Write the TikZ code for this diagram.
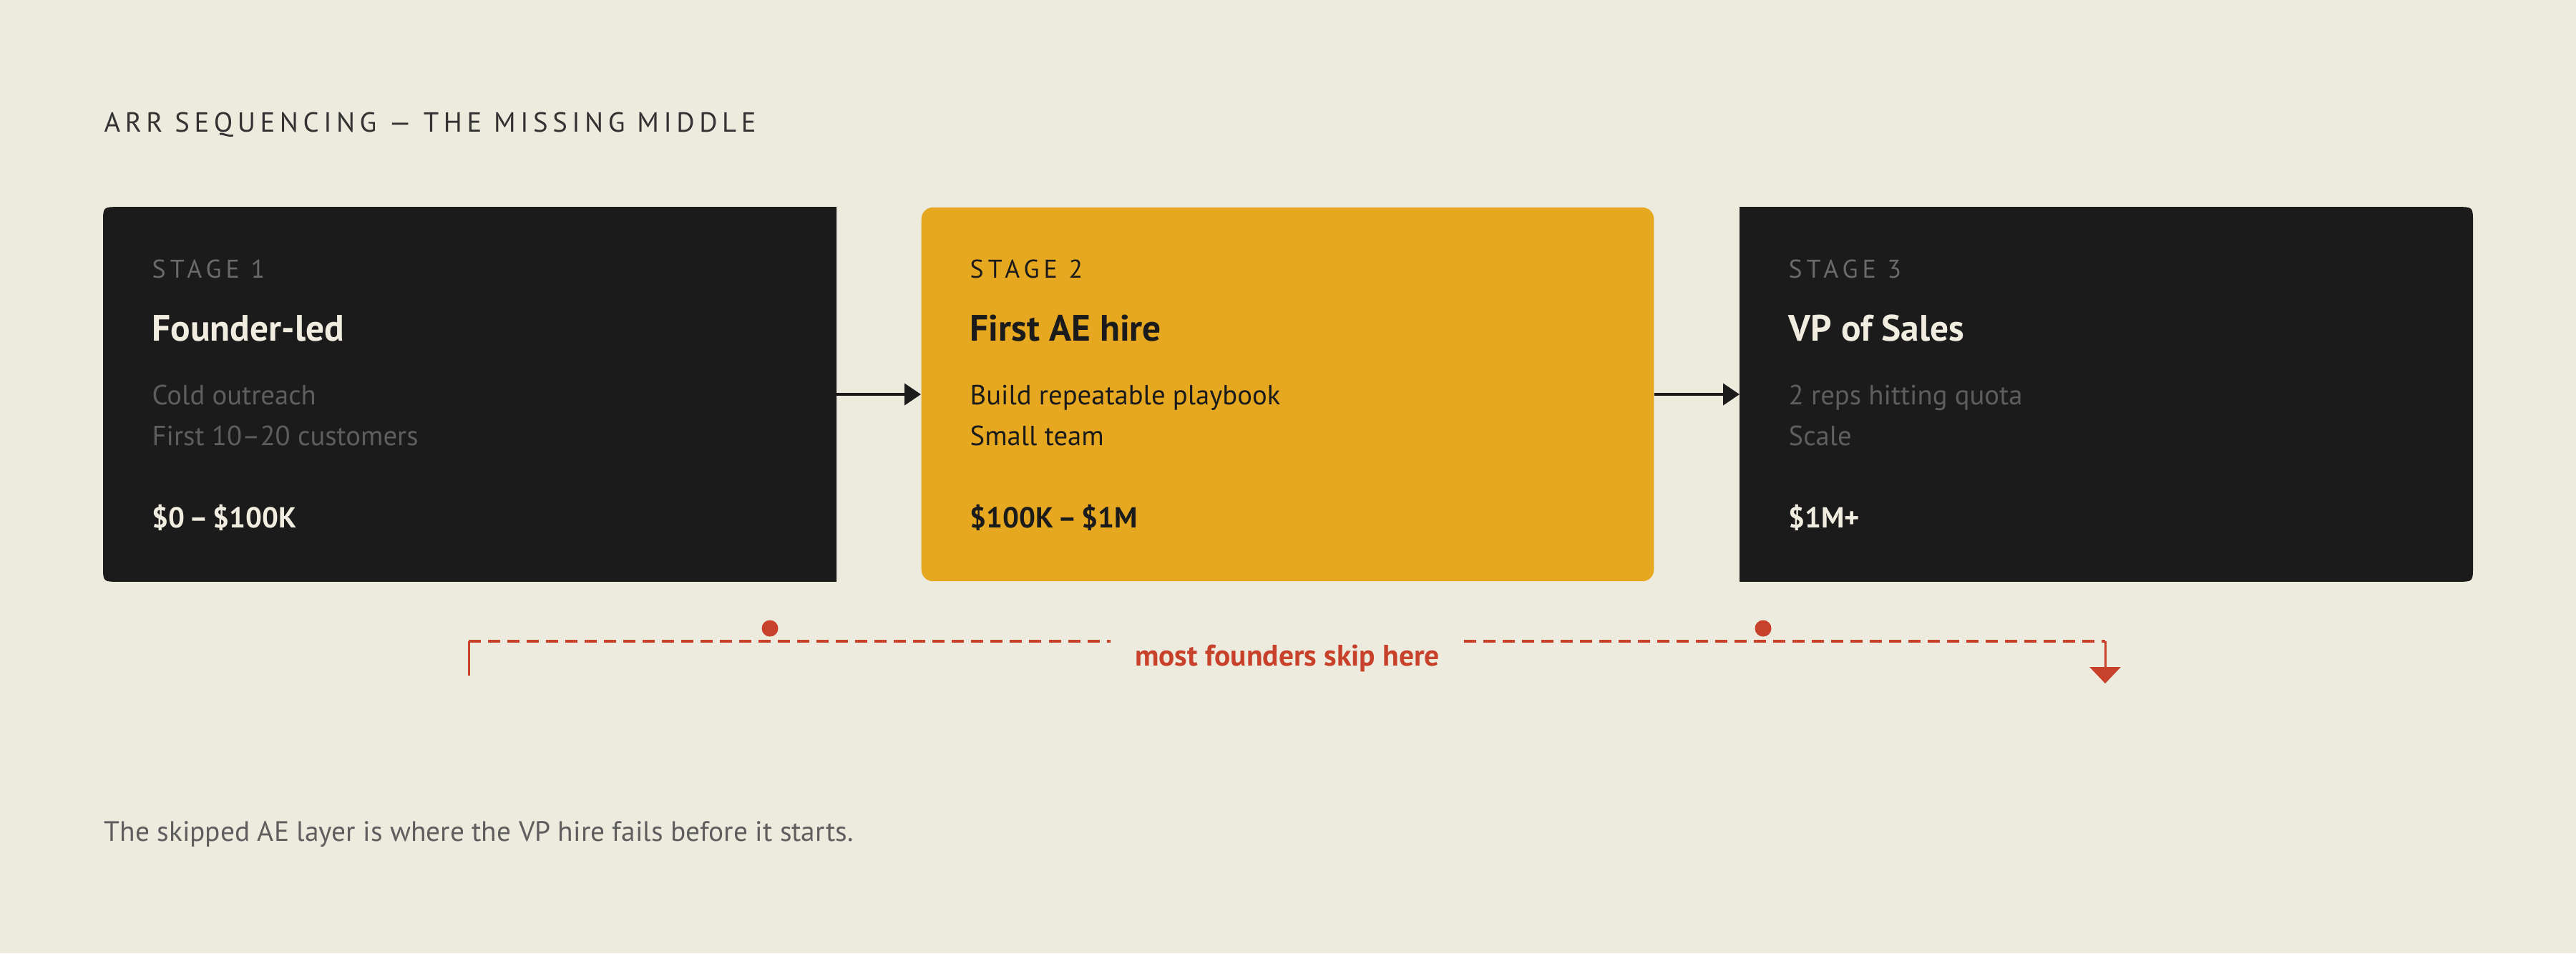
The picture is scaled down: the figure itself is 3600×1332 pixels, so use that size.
\documentclass[tikz,border=0pt]{standalone}
\usepackage{fontspec}
\setmainfont{PT Sans}
\usetikzlibrary{arrows.meta}

\definecolor{paper}{HTML}{EDEADE}
\definecolor{ink}{HTML}{1B1B1B}
\definecolor{gold}{HTML}{E6A820}
\definecolor{rust}{HTML}{C8412B}
\definecolor{cream}{HTML}{F0ECE0}
\definecolor{dimgrey}{HTML}{6A6A6A}
\definecolor{fadegrey}{HTML}{5E5E5E}

\tikzset{
  stagebox/.style={rectangle, rounded corners=0.16cm, minimum width=10.23cm, minimum height=5.22cm, inner sep=0},
  tag/.style={anchor=base west, inner sep=0, font=\fontsize{10.2}{12}\selectfont\addfontfeature{LetterSpace=17}},
  head/.style={anchor=base west, inner sep=0, font=\fontsize{14.6}{17}\selectfont\bfseries},
  note/.style={anchor=base west, inner sep=0, font=\fontsize{11}{13}\selectfont},
  amount/.style={anchor=base west, inner sep=0, font=\fontsize{11.5}{14}\selectfont\bfseries},
  flow/.style={ink, line width=0.04cm, -{Triangle[length=0.23cm, width=0.30cm]}},
  dot/.style={circle, fill=rust, minimum size=0.23cm, inner sep=0},
}
\newcommand{\upto}{\hspace{0.15em}–\hspace{0.15em}}

\begin{document}
\begin{tikzpicture}[x=0.01cm, y=-0.01cm]
\fill[paper] (0,0) rectangle (3600,1332);
\useasboundingbox (0,0) rectangle (3600,1332);

\node[anchor=base west, inner sep=0, text=ink!90, font=\fontsize{11}{13}\selectfont\addfontfeature{LetterSpace=17}] (title) at (145,184) {ARR SEQUENCING — THE MISSING MIDDLE};

% the three stages
\node[stagebox] (s1) at (656.5,551) {};
\fill[ink] (s1.north east) -- ([xshift=0.22cm]s1.north west) .. controls (s1.north west) .. ([yshift=-0.22cm]s1.north west)
  -- ([yshift=0.22cm]s1.south west) .. controls (s1.south west) .. ([xshift=0.22cm]s1.south west) -- (s1.south east) -- cycle;
\node[stagebox, fill=gold] (s2) at (1799.5,551) {};
\node[stagebox] (s3) at (2943.5,551) {};
\fill[ink] (s3.north west) -- ([xshift=-0.22cm]s3.north east) .. controls (s3.north east) .. ([yshift=-0.22cm]s3.north east)
  -- ([yshift=0.22cm]s3.south east) .. controls (s3.south east) .. ([xshift=-0.22cm]s3.south east) -- (s3.south west) -- cycle;

\node[tag, text=dimgrey] (t1) at (212,388) {STAGE 1};
\node[head, text=cream] (h1) at (212,476) {Founder-led};
\node[note, text=fadegrey] (n1) at (212,565) {Cold outreach};
\node[note, text=fadegrey] (m1) at (212,622) {First 10–20 customers};
\node[amount, text=cream] (a1) at (212,737) {\$0\upto\$100K};

\node[tag, text=ink] (t2) at (1355,388) {STAGE 2};
\node[head, text=ink] (h2) at (1355,476) {First AE hire};
\node[note, text=ink] (n2) at (1355,565) {Build repeatable playbook};
\node[note, text=ink] (m2) at (1355,622) {Small team};
\node[amount, text=ink] (a2) at (1355,737) {\$100K\upto\$1M};

\node[tag, text=dimgrey] (t3) at (2499,388) {STAGE 3};
\node[head, text=cream] (h3) at (2499,476) {VP of Sales};
\node[note, text=fadegrey] (n3) at (2499,565) {2 reps hitting quota};
\node[note, text=fadegrey] (m3) at (2499,622) {Scale};
\node[amount, text=cream] (a3) at (2499,737) {\$1M+};

\draw[flow] (s1) -- (s2);
\draw[flow] (s2) -- (s3);

% the skip line
\node[anchor=base, inner xsep=0.33cm, inner ysep=0, text=rust, font=\fontsize{11.8}{14}\selectfont\bfseries] (skip) at (1799,930) {most founders skip here};
\coordinate (bl) at (655,944);
\coordinate (tl) at (655,896);
\coordinate (tr) at (2942,896);
\coordinate (br) at (2942,955);
\node[dot] (d1) at (1076,878) {};
\node[dot] (d2) at (2464,878) {};

\draw[rust, line width=0.03cm] (bl) -- (tl);
\draw[rust, line width=0.045cm, dash pattern=on 0.17cm off 0.10cm] (tl) -- (skip.west |- tl);
\draw[rust, line width=0.045cm, dash pattern=on 0.17cm off 0.10cm] (skip.east |- tr) -- (tr);
\draw[rust, line width=0.03cm, -{Triangle[length=0.23cm, width=0.43cm]}] (tr) -- (br);

\node[anchor=base west, inner sep=0, text=fadegrey, font=\fontsize{11.2}{13}\selectfont] (foot) at (145,1175) {The skipped AE layer is where the VP hire fails before it starts.};

\end{tikzpicture}
\end{document}
